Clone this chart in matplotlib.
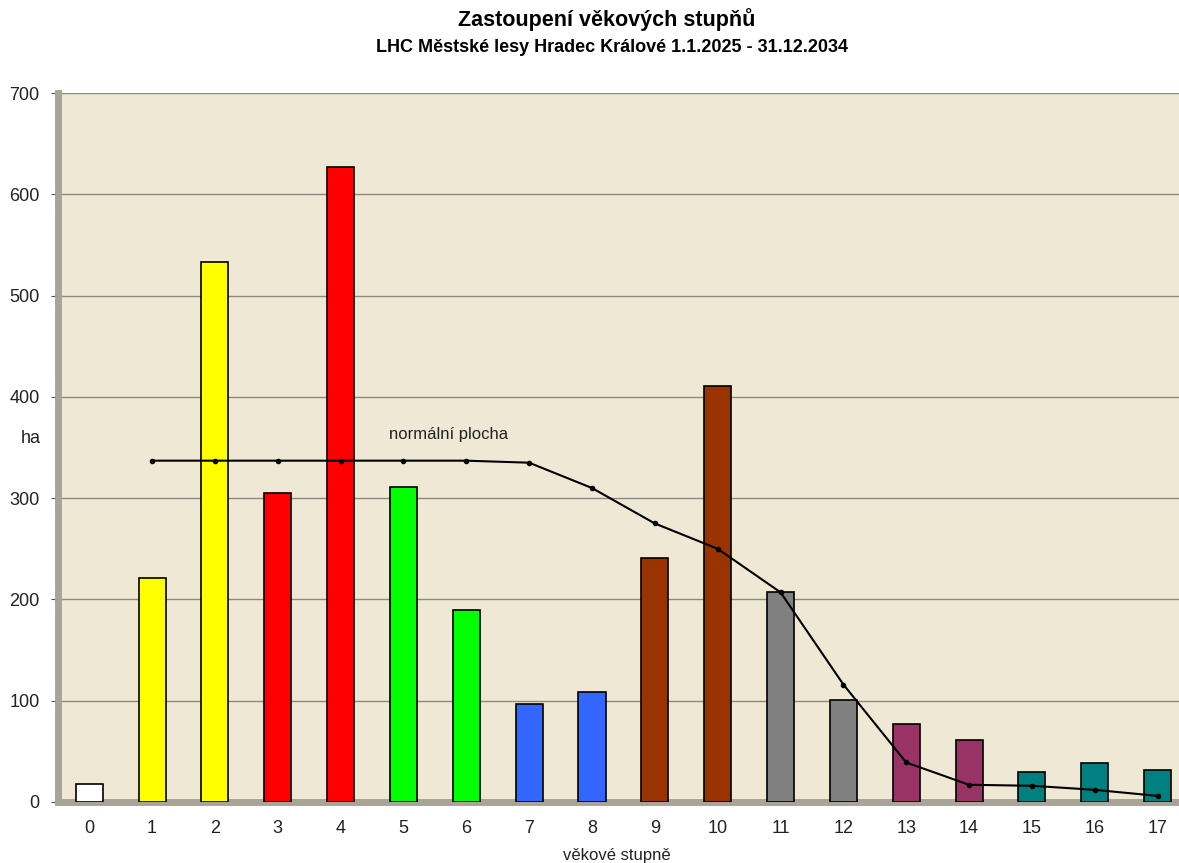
import matplotlib
matplotlib.use("Agg")
import matplotlib.pyplot as plt
from matplotlib.ticker import MultipleLocator, FixedLocator

plt.rcParams['font.family'] = ['Liberation Sans', 'DejaVu Sans']

# data
stupne = list(range(18))
plocha = [18, 221, 533, 305, 627, 311, 190, 97, 109, 241, 411, 207, 101, 77, 61, 30, 38, 32]
barvy = ['#FFFFFF', '#FFFF00', '#FFFF00', '#FF0000', '#FF0000', '#00FF00', '#00FF00',
         '#3366FF', '#3366FF', '#993300', '#993300', '#808080', '#808080',
         '#993366', '#993366', '#008080', '#008080', '#008080']
normal_x = list(range(1, 18))
normal_y = [337, 337, 337, 337, 337, 337, 335, 310, 275, 250, 207, 116, 39, 17, 16, 12, 6]

fig = plt.figure(figsize=(11.79, 8.63), dpi=100)
ax = fig.add_axes([0.049, 0.0707, 0.951, 0.8215])
ax.set_facecolor('#EFE8D4')

ax.bar(stupne, plocha, width=0.43, color=barvy, edgecolor='black', linewidth=1.2, zorder=3)
ax.plot(normal_x, normal_y, '-', color='black', linewidth=1.5, marker='o', markersize=3, zorder=4)
ax.text(5.72, 363, 'normální plocha', ha='center', va='center', fontsize=12, color='#222222', zorder=5)

ax.set_xlim(-0.5, 17.34)
ax.set_ylim(0, 700)
ax.yaxis.set_major_locator(MultipleLocator(100))
ax.grid(axis='y', color='#8C8A80', linewidth=1.0, zorder=0)
ax.set_axisbelow(True)

ax.set_xticks(stupne)
ax.xaxis.set_minor_locator(FixedLocator([i + 0.5 for i in range(-1, 18)]))
ax.tick_params(axis='x', which='major', length=0, labelsize=13, pad=13, labelcolor='#222222')
ax.tick_params(axis='x', which='minor', length=5, direction='inout', color='#555555')
ax.tick_params(axis='y', length=5, labelsize=13, color='#555555', pad=8, labelcolor='#222222')

for s in ['top', 'right']:
    ax.spines[s].set_visible(False)
ax.spines['left'].set_color('#A8A498')
ax.spines['left'].set_linewidth(5)
ax.spines['bottom'].set_color('#A8A498')
ax.spines['bottom'].set_linewidth(5)

ax.set_ylabel('ha', rotation=0, fontsize=13, va='center', color='#222222')
ax.yaxis.set_label_coords(-0.024, 0.513)

fig.text(0.523, 0.009, 'věkové stupně', ha='center', va='center', fontsize=12, color='#222222')
fig.text(0.515, 0.977, 'Zastoupení věkových stupňů', ha='center', va='center',
         fontsize=15.5, fontweight='bold')
fig.text(0.519, 0.945, 'LHC Městské lesy Hradec Králové 1.1.2025 - 31.12.2034', ha='center',
         va='center', fontsize=13, fontweight='bold')

fig.savefig('out.png', dpi=100)
